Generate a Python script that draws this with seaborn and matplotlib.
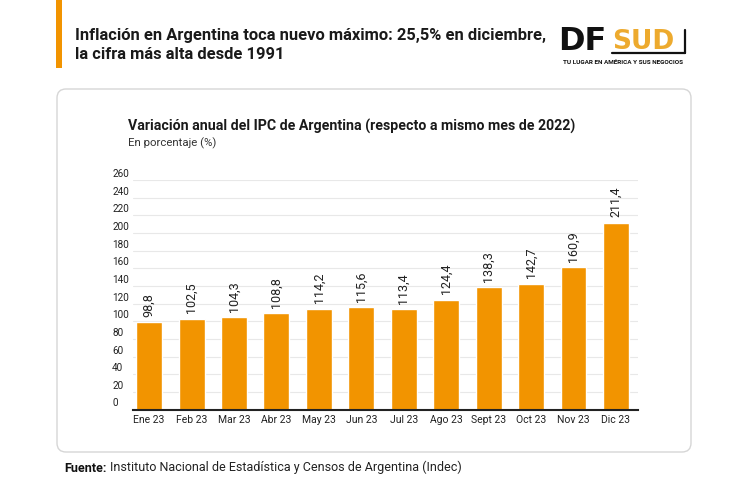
import matplotlib
matplotlib.use('Agg')
import matplotlib.pyplot as plt
import matplotlib.transforms as mtransforms
from matplotlib.patches import FancyBboxPatch, Rectangle
from matplotlib import font_manager
import seaborn as sns

# datos
meses = ['Ene 23', 'Feb 23', 'Mar 23', 'Abr 23', 'May 23', 'Jun 23',
         'Jul 23', 'Ago 23', 'Sept 23', 'Oct 23', 'Nov 23', 'Dic 23']
ipc = [98.8, 102.5, 104.3, 108.8, 114.2, 115.6,
       113.4, 124.4, 138.3, 142.7, 160.9, 211.4]
yticks = list(range(0, 261, 20))

titulo = 'Inflación en Argentina toca nuevo máximo: 25,5% en diciembre,\nla cifra más alta desde 1991'
titulo_graf = 'Variación anual del IPC de Argentina (respecto a mismo mes de 2022)'
subtitulo = 'En porcentaje (%)'
fuente = 'Instituto Nacional de Estadística y Censos de Argentina (Indec)'

NARANJA = '#F29400'
ORO = '#EDAA2E'

sns.set_theme(style='white')
nombres = {f.name for f in font_manager.fontManager.ttflist}
cond = 'Liberation Sans Narrow' if 'Liberation Sans Narrow' in nombres else 'Roboto'
plt.rcParams['font.family'] = [cond, 'DejaVu Sans']

fig = plt.figure(figsize=(7.5, 4.93), dpi=100)

# fondo en coordenadas de pixel
bg = fig.add_axes([0, 0, 1, 1])
bg.set_xlim(0, 750)
bg.set_ylim(493, 0)
bg.axis('off')

bg.add_patch(Rectangle((56, 0), 6, 68, color=NARANJA, lw=0))
bg.text(75, 45, titulo, fontsize=11.9, fontweight='bold', color='#1a1a1a',
        va='center', ha='left', linespacing=1.35)

# logo
bg.text(558, 50, 'DF', fontsize=23, fontweight='bold', color='#111111',
        family='DejaVu Sans', va='baseline', ha='left')
bg.text(612, 49, 'SUD', fontsize=19, fontweight='bold', color=ORO,
        family='DejaVu Sans', va='baseline', ha='left')
bg.plot([685, 685], [30, 53], color='#111111', lw=1.6)
bg.plot([612, 685], [53, 53], color='#111111', lw=1.6)
bg.text(623, 63, 'TU LUGAR EN AMÉRICA Y SUS NEGOCIOS', fontsize=4.6,
        fontweight='bold', color='#111111', family='Roboto',
        va='center', ha='center')

# tarjeta
bg.add_patch(FancyBboxPatch((57, 89), 634, 363,
                            boxstyle='round,pad=0,rounding_size=9',
                            fc='white', ec='#d6d6d6', lw=1))

bg.text(128, 126, titulo_graf, fontsize=10.2, fontweight='bold',
        color='#1a1a1a', va='center', ha='left')
bg.text(128, 143, subtitulo, fontsize=8.2, color='#333333',
        va='center', ha='left')

t_fuente = bg.text(64, 468, 'Fuente:', fontsize=9, fontweight='bold',
                   color='#111111', va='center', ha='left')
bg.annotate(fuente, xy=(1, 0), xycoords=t_fuente, xytext=(2.5, 0),
            textcoords='offset points', fontsize=9, color='#222222',
            va='bottom', ha='left')

# grafico
ax = fig.add_axes([133 / 750, (493 - 409.5) / 493, 505 / 750, (409.5 - 180) / 493])
sns.barplot(x=meses, y=ipc, color=NARANJA, saturation=1, width=0.61, ax=ax)
ax.set_xlim(-0.38, 11.52)
ax.set_ylim(0, 260)
ax.set_yticks(yticks)
ax.set_yticklabels([str(v) for v in yticks])
ax.yaxis.grid(True, color='#e8e8e8', lw=0.8)
ax.set_axisbelow(True)
for s in ['top', 'right', 'left']:
    ax.spines[s].set_visible(False)
ax.spines['bottom'].set_color('#222222')
ax.spines['bottom'].set_linewidth(1.5)
ax.tick_params(axis='both', length=0)
ax.tick_params(axis='y', pad=15, labelsize=7.2, labelcolor='#222222')
ax.tick_params(axis='x', pad=4, labelsize=7.5, labelcolor='#222222')
desplaza = mtransforms.ScaledTranslation(0, 7 / 100, fig.dpi_scale_trans)
for lab in ax.get_yticklabels():
    lab.set_horizontalalignment('left')
    lab.set_transform(lab.get_transform() + desplaza)
ax.set_xlabel('')
ax.set_ylabel('')

ax.bar_label(ax.containers[0], labels=[f'{v:.1f}'.replace('.', ',') for v in ipc],
             rotation=90, padding=4, fontsize=9, color='#222222')

fig.savefig('out.png', dpi=100)
